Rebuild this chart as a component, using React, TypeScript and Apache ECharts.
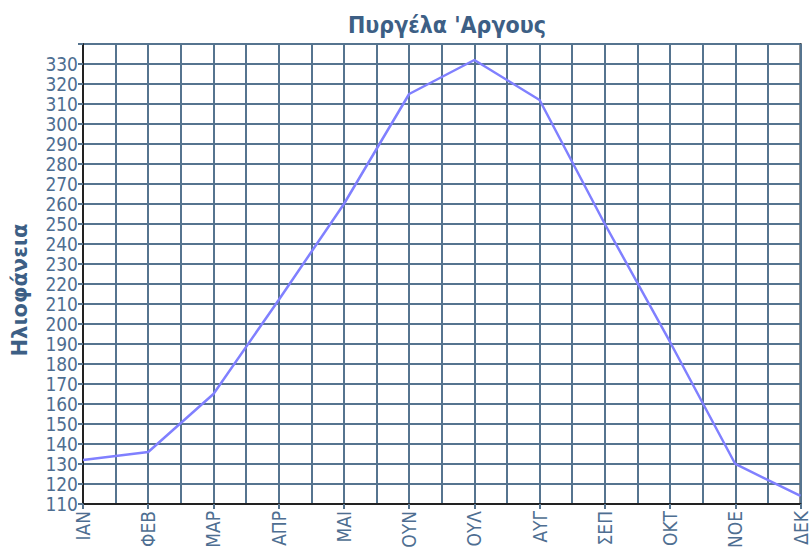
import React, { useEffect, useRef } from "react";
import * as echarts from "echarts";

const months = ["ΙΑΝ", "ΦΕΒ", "ΜΑΡ", "ΑΠΡ", "ΜΑΙ", "ΟΥΝ", "ΟΥΛ", "ΑΥΓ", "ΣΕΠ", "ΟΚΤ", "ΝΟΕ", "ΔΕΚ"];
const sunshine = [132, 136, 165, 212, 260, 315, 332, 312, 250, 191, 130, 114];
const yMin = 110;
const yMax = 340;
const yStep = 10;

const GRID_COLOR = "#56748f";
const TEXT_COLOR = "#4e6e91";

export default function App() {
  const ref = useRef<HTMLDivElement>(null);
  useEffect(() => {
    document.body.style.margin = "0";
    const chart = echarts.init(ref.current!, null, { renderer: "svg" });
    chart.setOption({
      animation: false,
      backgroundColor: "#ffffff",
      title: {
        text: "Πυργέλα 'Αργους",
        left: 442,
        textAlign: "center",
        top: 8,
        textStyle: {
          fontFamily: "DejaVu Sans Condensed",
          fontWeight: "bold",
          fontSize: 23,
          color: "#3d5f85",
        },
      },
      graphic: [
        {
          type: "text",
          x: 20,
          y: 290,
          rotation: Math.PI / 2,
          style: {
            text: "Ηλιοφάνεια",
            fontFamily: "DejaVu Sans",
            fontWeight: "bold",
            fontSize: 21,
            fill: "#3d5f85",
            align: "center",
            verticalAlign: "middle",
          },
        },
      ],
      grid: {
        left: 83,
        right: 8,
        top: 44,
        bottom: 47,
        show: true,
        borderColor: "#222222",
        borderWidth: 2,
        backgroundColor: "transparent",
      },
      xAxis: [
        {
          type: "category",
          data: months,
          boundaryGap: false,
          axisLine: { show: true, lineStyle: { color: "#222222", width: 2 } },
          axisTick: { show: true, length: 5, lineStyle: { color: GRID_COLOR, width: 2 } },
          splitLine: { show: false },
          axisLabel: {
            rotate: 90,
            color: TEXT_COLOR,
            fontFamily: "DejaVu Sans Condensed",
            fontSize: 19,
            margin: 7,
          },
        },
        {
          type: "value",
          min: 0,
          max: 22,
          interval: 1,
          show: true,
          position: "bottom",
          axisLine: { show: false },
          axisTick: { show: false },
          axisLabel: { show: false },
          splitLine: { show: true, lineStyle: { color: GRID_COLOR, width: 2 } },
        },
      ],
      yAxis: {
        type: "value",
        min: yMin,
        max: yMax,
        interval: yStep,
        axisLine: { show: true, lineStyle: { color: "#222222", width: 2 } },
        axisTick: { show: true, length: 5, lineStyle: { color: GRID_COLOR, width: 2 } },
        splitLine: { show: true, lineStyle: { color: GRID_COLOR, width: 2 } },
        axisLabel: {
          color: TEXT_COLOR,
          fontFamily: "DejaVu Sans Condensed",
          fontSize: 19,
          margin: 5,
          formatter: (v: number) => (v >= yMax ? "" : String(v)),
        },
      },
      series: [
        {
          type: "line",
          xAxisIndex: 0,
          data: sunshine,
          showSymbol: false,
          symbol: "none",
          lineStyle: { color: "#8080ff", width: 2.5 },
          z: 5,
        },
      ],
    });
    return () => chart.dispose();
  }, []);
  return <div ref={ref} style={{ width: 810, height: 551 }} />;
}
